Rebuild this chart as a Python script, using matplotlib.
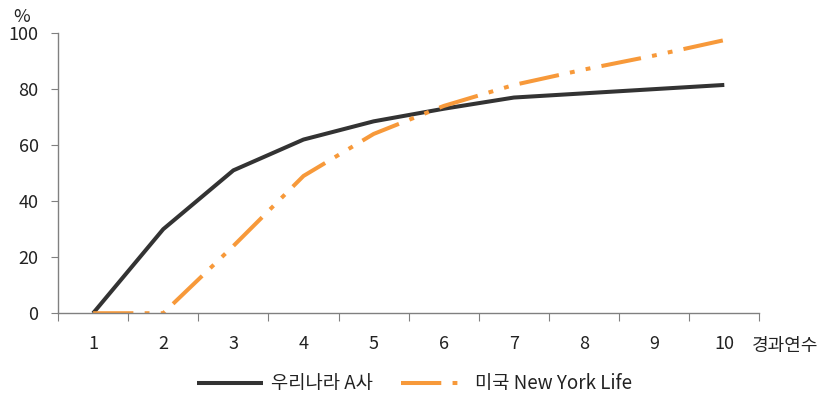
import matplotlib
matplotlib.use('Agg')
import matplotlib.pyplot as plt

plt.rcParams['font.family'] = ['Noto Sans CJK KR', 'DejaVu Sans']

years = [1, 2, 3, 4, 5, 6, 7, 8, 9, 10]
korea_a = [0, 30, 51, 62, 68.5, 73, 77, 78.5, 80, 81.5]
us_nyl = [0, 0, 24, 49, 64, 74, 81.5, 87, 92, 97.5]

fs = 13

fig = plt.figure(figsize=(8.29, 3.99), dpi=100)
ax = fig.add_axes([0.07, 0.215, 0.846, 0.702])

ax.plot(years, korea_a, color='#333333', lw=2.9, label='우리나라 A사',
        solid_capstyle='butt')
ax.plot(years, us_nyl, color='#F7993A', lw=2.9, label='미국 New York Life',
        dashes=(10, 2.8, 1.2, 2.8, 1.2, 2.8), dash_capstyle='butt')

ax.set_xlim(0.5, 10.5)
ax.set_ylim(0, 100)
ax.set_yticks(range(0, 101, 20))
ax.set_xticks([x + 0.5 for x in range(0, 11)], minor=False)
ax.set_xticklabels([])
ax.set_xticks(years, minor=True)
ax.set_xticklabels([str(y) for y in years], minor=True)
ax.tick_params(axis='x', which='major', length=6, direction='out', color='#808080')
ax.tick_params(axis='x', which='minor', length=0, pad=16, labelsize=fs, colors='#222222')
ax.tick_params(axis='y', length=5, direction='out', color='#808080', labelsize=fs,
               colors='#222222', pad=9)
for s in ['top', 'right']:
    ax.spines[s].set_visible(False)
for s in ['left', 'bottom']:
    ax.spines[s].set_color('#808080')
    ax.spines[s].set_linewidth(1.0)

fig.text(0.016, 0.945, '%', fontsize=fs, color='#222222')
fig.text(0.907, 0.12, '경과연수', fontsize=fs, color='#222222')

leg = fig.legend(loc='lower center', bbox_to_anchor=(0.5, -0.03), ncol=2, frameon=False,
                 fontsize=13.5, handlelength=3.5, columnspacing=1.5, handletextpad=0.45)
for t in leg.get_texts():
    t.set_color('#222222')

fig.savefig('out.png', dpi=100)
